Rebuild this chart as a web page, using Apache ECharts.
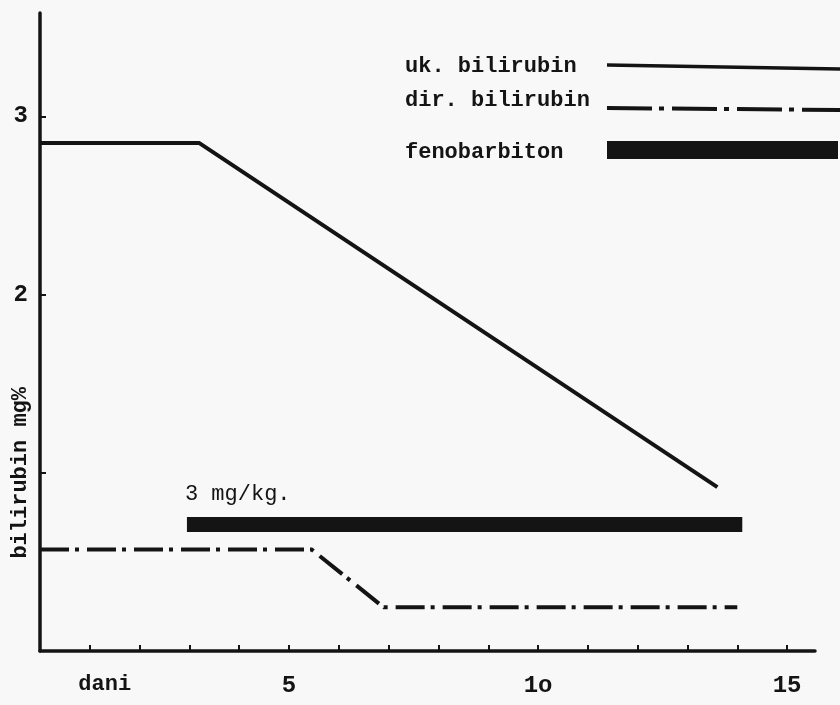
<!DOCTYPE html>
<html>
<head>
<meta charset="utf-8">
<script src="https://cdn.jsdelivr.net/npm/echarts@6/dist/echarts.min.js"></script>
<style>
  html, body { margin: 0; padding: 0; background: #f8f8f8; }
  #chart { width: 840px; height: 705px; }
</style>
</head>
<body>
<div id="chart"></div>
<script>
// Total bilirubin (mg%) by day
const totalDays = [0, 3.2, 13.6];
const totalValues = [2.85, 2.85, 0.92];

// Direct bilirubin (mg%) by day
const directDays = [0, 5.45, 6.9, 14.0];
const directValues = [0.57, 0.57, 0.245, 0.245];

// Phenobarbital course, drawn as a thick band at a fixed level
const phenoDays = [2.95, 14.1];
const phenoLevel = [0.71, 0.71];
const doseText = '3 mg/kg.';

// Axis ticks and labels
const xTickValues = [1, 2, 3, 4, 5, 6, 7, 8, 9, 10, 11, 12, 13, 14, 15];
const xLabelValues = [5, 10, 15];
const xLabelTexts = ['5', '1o', '15'];
const yTickValues = [1, 2, 3];
const yLabelValues = [2, 3];
const yLabelTexts = ['2', '3'];
const xName = 'dani';
const yName = 'bilirubin mg%';
const seriesNames = ['uk. bilirubin', 'dir. bilirubin', 'fenobarbiton'];

const INK = '#141414';
const MONO = '"Liberation Mono", "DejaVu Sans Mono", monospace';
const DASH_DOT = [29, 6, 4, 8];

const zip = (xs, ys) => xs.map((x, i) => [x, ys[i]]);
const lookup = (vals, texts) => v => {
  const i = vals.indexOf(Math.round(v));
  return i >= 0 && Math.abs(v - vals[i]) < 1e-6 ? texts[i] : '';
};

const chart = echarts.init(document.getElementById('chart'), null, { renderer: 'canvas' });

const option = {
  backgroundColor: '#f8f8f8',
  animation: false,
  grid: { left: 40, right: 25, top: 13, bottom: 54 },
  xAxis: {
    type: 'value', min: 0, max: 15.56, interval: 1,
    axisLine: { show: true, lineStyle: { color: INK, width: 3.5 } },
    axisTick: { show: true, inside: true, length: 6, customValues: xTickValues,
                lineStyle: { color: INK, width: 2 } },
    axisLabel: { show: true, customValues: xLabelValues, margin: 23,
                 formatter: lookup(xLabelValues, xLabelTexts),
                 color: INK, fontFamily: MONO, fontWeight: 'bold', fontSize: 24 },
    splitLine: { show: false }
  },
  yAxis: {
    type: 'value', min: 0, max: 3.58, interval: 1,
    axisLine: { show: true, lineStyle: { color: INK, width: 3.5 } },
    axisTick: { show: true, inside: true, length: 6, customValues: yTickValues,
                lineStyle: { color: INK, width: 2 } },
    axisLabel: { show: true, customValues: yLabelValues, margin: 12,
                 formatter: lookup(yLabelValues, yLabelTexts),
                 color: INK, fontFamily: MONO, fontWeight: 'bold', fontSize: 24 },
    splitLine: { show: false }
  },
  series: [
    {
      name: seriesNames[0], type: 'line', symbol: 'none',
      data: zip(totalDays, totalValues),
      lineStyle: { color: INK, width: 4, type: 'solid' }
    },
    {
      name: seriesNames[1], type: 'line', symbol: 'none',
      data: zip(directDays, directValues),
      lineStyle: { color: INK, width: 4, type: DASH_DOT }
    },
    {
      name: seriesNames[2], type: 'line', symbol: 'none',
      data: zip(phenoDays, phenoLevel),
      lineStyle: { color: INK, width: 15, cap: 'butt' }
    }
  ]
};

chart.setOption(option);

// Annotations placed from data coordinates
const px = (x, y) => chart.convertToPixel({ gridIndex: 0 }, [x, y]);
const dosePos = px(phenoDays[0], phenoLevel[0]);
const yNamePos = px(0, 1);
const xNamePos = px(1.3, 0);

// Key in the upper right: text on the left, line sample on the right
const keyX = 405, sampleX0 = 607, sampleX1 = 840;
const keyRows = [66, 100, 152];
const keyText = (t, y) => ({
  type: 'text', x: keyX, y: y,
  style: { text: t, font: 'bold 22px ' + MONO, fill: INK, verticalAlign: 'middle', align: 'left' }
});

chart.setOption({
  graphic: [
    keyText(seriesNames[0], keyRows[0]),
    keyText(seriesNames[1], keyRows[1]),
    keyText(seriesNames[2], keyRows[2]),
    { type: 'line', shape: { x1: sampleX0, y1: keyRows[0] - 1, x2: sampleX1, y2: keyRows[0] + 3 },
      style: { stroke: INK, lineWidth: 3.5 } },
    { type: 'line', shape: { x1: sampleX0, y1: keyRows[1] + 8, x2: sampleX1, y2: keyRows[1] + 10 },
      style: { stroke: INK, lineWidth: 4, lineDash: [45, 7, 5, 8] } },
    { type: 'rect', shape: { x: sampleX0, y: keyRows[2] - 11, width: 231, height: 18 },
      style: { fill: INK } },
    { type: 'text', x: dosePos[0] - 2, y: dosePos[1] - 30,
      style: { text: doseText, font: '22px ' + MONO, fill: INK, verticalAlign: 'middle', align: 'left' } },
    { type: 'text', x: 20, y: yNamePos[1], rotation: Math.PI / 2,
      style: { text: yName, font: 'bold 22px ' + MONO, fill: INK, verticalAlign: 'middle', align: 'center' } },
    { type: 'text', x: xNamePos[0], y: 684,
      style: { text: xName, font: 'bold 22px ' + MONO, fill: INK, verticalAlign: 'middle', align: 'center' } }
  ]
});
</script>
</body>
</html>
